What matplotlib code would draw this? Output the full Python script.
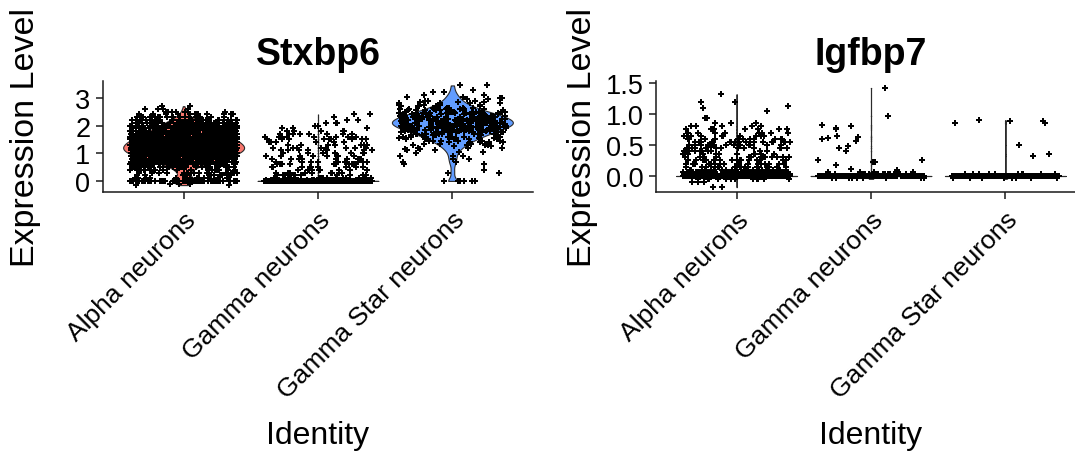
import numpy as np
import matplotlib
matplotlib.use("Agg")
import matplotlib.pyplot as plt

plt.rcParams['font.family'] = ['Liberation Sans', 'DejaVu Sans']

# ---------------- data ----------------
groups = ['Alpha neurons', 'Gamma neurons', 'Gamma Star neurons']
group_colors = ['#F8766D', '#00BA38', '#619CFF']
genes = ['Stxbp6', 'Igfbp7']

# Stxbp6 : expression levels and number of cells at each level
stx_alpha_levels = [-0.15, -0.1, 0.0, 0.1, 0.2, 0.3, 0.4, 0.5, 0.6, 0.7, 0.8, 0.9, 1.0, 1.1, 1.2,
                    1.3, 1.4, 1.5, 1.6, 1.7, 1.8, 1.9, 2.0, 2.1, 2.2, 2.3, 2.4, 2.5, 2.6, 2.7]
stx_alpha_counts = [2, 3, 70, 15, 14, 16, 24, 36, 55, 80, 105, 130, 150, 160, 165,
                    160, 150, 140, 125, 110, 95, 80, 65, 50, 36, 22, 12, 7, 4, 2]

stx_gamma_levels = [0.0, 0.05, 0.1, 0.2, 0.3, 0.4, 0.5, 0.6, 0.7, 0.8, 0.9, 1.0, 1.1, 1.2, 1.3,
                    1.4, 1.5, 1.6, 1.7, 1.8, 1.9, 2.0, 2.1, 2.2, 2.3, 2.4]
stx_gamma_counts = [1100, 32, 18, 11, 10, 10, 9, 9, 9, 9, 9, 9, 8, 8, 8,
                    8, 9, 9, 8, 5, 3, 2, 3, 2, 1, 2]

stx_gstar_levels = [0.0, 0.3, 0.4, 0.6, 0.7, 0.8, 0.9,
                    1.0, 1.05, 1.1, 1.15, 1.2, 1.25, 1.3, 1.35, 1.4, 1.45,
                    1.5, 1.55, 1.6, 1.65, 1.7, 1.75, 1.8, 1.85, 1.9, 1.95,
                    2.0, 2.05, 2.1, 2.15, 2.2, 2.25, 2.3, 2.35, 2.4, 2.45,
                    2.5, 2.55, 2.6, 2.65, 2.7, 2.75, 2.8, 2.85, 2.9, 2.95,
                    3.0, 3.05, 3.1, 3.2, 3.3, 3.45]
stx_gstar_counts = [7, 2, 1, 2, 2, 2, 3,
                    1, 2, 2, 2, 3, 3, 4, 4, 5, 6,
                    7, 7, 9, 9, 11, 11, 13, 14, 15, 16,
                    17, 18, 18, 18, 17, 17, 15, 15, 13, 12,
                    10, 9, 7, 7, 5, 5, 4, 3, 3, 2,
                    2, 2, 2, 2, 1, 2]

# Igfbp7
igf_alpha_levels = [-0.18, -0.1, -0.05, 0.0, 0.03, 0.06, 0.1, 0.15, 0.2, 0.25, 0.3, 0.35, 0.4, 0.45,
                    0.5, 0.55, 0.6, 0.65, 0.7, 0.75, 0.8, 0.85, 0.93, 1.05, 1.1, 1.13, 1.2, 1.32]
igf_alpha_counts = [2, 3, 12, 1400, 70, 50, 26, 19, 18, 17, 15, 13, 12, 12,
                    15, 18, 11, 10, 9, 8, 5, 3, 2, 1, 1, 1, 2, 1]

igf_gamma_levels = [-0.04, 0.0, 0.03, 0.06, 0.09, 0.12, 0.17, 0.22, 0.25, 0.4, 0.45, 0.48,
                    0.57, 0.6, 0.62, 0.63, 0.65, 0.75, 0.78, 0.8, 0.82, 0.97, 1.42]
igf_gamma_counts = [10, 250, 18, 5, 1, 1, 1, 2, 2, 1, 1, 1,
                    1, 1, 1, 1, 1, 1, 1, 1, 1, 1, 1]

igf_gstar_levels = [-0.04, 0.0, 0.03, 0.32, 0.35, 0.5, 0.85, 0.88, 0.9]
igf_gstar_counts = [8, 250, 12, 1, 1, 1, 2, 2, 1]

stx_yticks = [0, 1, 2, 3]
stx_yticklabels = ['0', '1', '2', '3']
igf_yticks = [0.0, 0.5, 1.0, 1.5]
igf_yticklabels = ['0.0', '0.5', '1.0', '1.5']

# ---------------- drawing ----------------
def cells(levels, counts):
    return np.repeat(np.asarray(levels, float), counts)


def bw_factor(vals):
    # ggplot / R bw.nrd0 expressed as a factor of the sample std
    sd = vals.std(ddof=1)
    q25, q75 = np.percentile(vals, [25, 75])
    iqr = q75 - q25
    if iqr > 0:
        bw = 0.9 * min(sd, iqr / 1.34) * len(vals) ** -0.2
    else:
        bw = 0.002
    return bw / sd


def jitter(n, seed_offset):
    # deterministic hash-based horizontal jitter in [0, 1)
    idx = np.arange(n) + 1 + seed_offset
    return np.modf(np.abs(np.sin(idx * 12.9898 + seed_offset * 0.731) * 43758.5453))[0]


def panel(ax, datasets, title, ylim, yticks, yticklabels, panel_id, ylab_x):
    for i, vals in enumerate(datasets):
        pos = i + 1
        parts = ax.violinplot([vals], positions=[pos], widths=0.9, showextrema=False,
                              bw_method=bw_factor(vals), points=3000)
        for b in parts['bodies']:
            b.set_facecolor(group_colors[i])
            b.set_edgecolor('#2b2b2b')
            b.set_linewidth(0.8)
            b.set_alpha(1)
            b.set_zorder(1)
        frac = jitter(len(vals), 5000 * panel_id + 700 * i)
        xs = pos + (frac - 0.5) * 0.8
        ax.scatter(xs, vals, marker='P', s=17, c='black', linewidths=0, zorder=3)

    ax.set_xlim(0.4, 3.6)
    ax.set_ylim(*ylim)
    ax.set_xticks([1, 2, 3])
    ax.set_xticklabels(groups, rotation=45, ha='right', va='top',
                       rotation_mode='anchor', fontsize=19)
    ax.set_yticks(yticks)
    ax.set_yticklabels(yticklabels, fontsize=19.5)
    for s in ['top', 'right']:
        ax.spines[s].set_visible(False)
    for s in ['left', 'bottom']:
        ax.spines[s].set_linewidth(1.1)
        ax.spines[s].set_color('#1a1a1a')
    ax.tick_params(axis='both', length=5, width=1.1, color='#1a1a1a')
    ax.tick_params(axis='y', pad=4)
    ax.tick_params(axis='x', pad=6)
    ax.set_title(title, fontsize=27, fontweight='bold', pad=12)
    ax.set_ylabel('Expression Level', fontsize=24.5)
    ax.set_xlabel('Identity', fontsize=23)
    ax.yaxis.label.set_verticalalignment('baseline')
    ax.yaxis.set_label_coords(ylab_x, 0.5)
    ax.xaxis.label.set_verticalalignment('baseline')
    ax.xaxis.set_label_coords(0.5, -2.26)


W, H = 1075, 452
fig = plt.figure(figsize=(W / 100, H / 100), dpi=100)
ax1 = fig.add_axes([103 / W, (H - 193) / H, 430 / W, 111 / H])
ax2 = fig.add_axes([656 / W, (H - 193) / H, 430 / W, 111 / H])

stx_data = [cells(stx_alpha_levels, stx_alpha_counts),
            cells(stx_gamma_levels, stx_gamma_counts),
            cells(stx_gstar_levels, stx_gstar_counts)]
igf_data = [cells(igf_alpha_levels, igf_alpha_counts),
            cells(igf_gamma_levels, igf_gamma_counts),
            cells(igf_gstar_levels, igf_gstar_counts)]

panel(ax1, stx_data, genes[0], (-0.40, 3.61), stx_yticks, stx_yticklabels, 0, -0.16)
panel(ax2, igf_data, genes[1], (-0.258, 1.532), igf_yticks, igf_yticklabels, 1, -0.152)

fig.savefig('out.png', dpi=100)
